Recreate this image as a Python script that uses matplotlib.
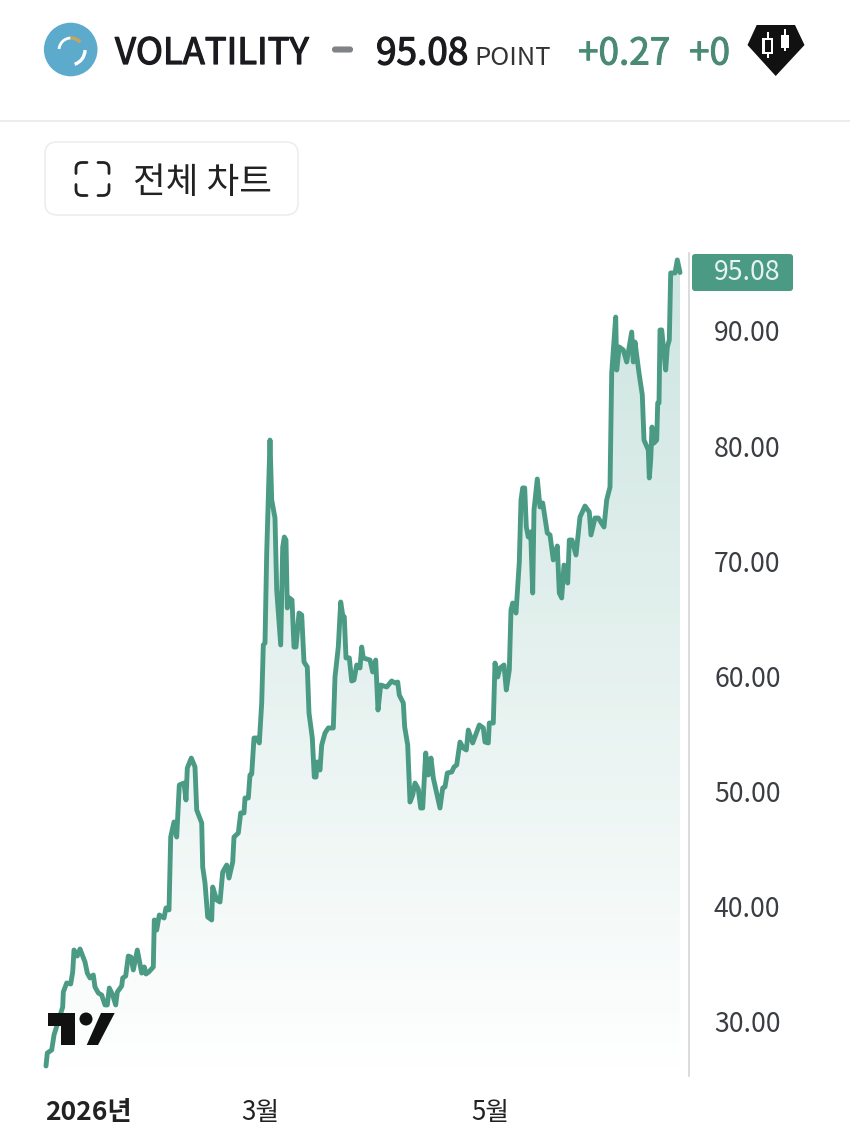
import numpy as np
import matplotlib
matplotlib.use("Agg")
import matplotlib.pyplot as plt
import matplotlib.patheffects as pe
from matplotlib.path import Path
from matplotlib.patches import Circle, FancyBboxPatch, Polygon, Arc, Rectangle, PathPatch

plt.rcParams['font.family'] = ['Noto Sans CJK KR', 'DejaVu Sans']

sessions = [0,1.3,5.7,8,16.7,17.3,20.7,24.7,26.7,28,31.3,34,39,41.3,44,47.3,49,52.3,55.7,59,61.3,63.3,66.7,69.7,71.3,75.7,76.7,79.7,82.3,85,87.3,91.3,95.7,98.3,100,102.7,107.3,108.3,110.7,113.3,118,120,123,124.7,128,130.7,133.3,138,140,141.3,145.3,149,150.7,155.7,156.7,159,161.7,165.7,166.7,170.7,174,176.7,180.7,183,186.7,188,192.3,194.7,198,199,202.3,204,205.7,208,210.7,213.3,215.7,217.3,219,220.7,224,225.7,229,230.7,234.7,236.7,238.3,240,241.3,243.3,246,248,250,253,255.7,258,261.3,263,266.3,268.3,270,271.3,274,275.7,279,282.3,287.3,289,292.3,294.7,296.7,298.3,300,303.3,305.7,308,310.7,314,315.7,317.3,324,326.7,329.7,332,334.7,340.7,345.7,349,351.7,353.3,357.3,358.7,361.7,364,366.7,369,372.3,374.7,376.7,379.7,382.3,385,387.3,394,396.7,399,401.3,405.7,408,410.7,414,417.3,420.3,422.3,426.7,433.3,437.3,439,442.3,443.3,447.3,449,451.7,454,458,460.3,463.3,465,466.7,470,473.3,475,476.7,478.7,480.3,482.3,484.7,486.7,488,491.3,494,496.7,501.3,504,507.3,511.3,513.3,515.7,518,521.7,523.3,526,530,534,539,543.3,545,549,552.3,558,560.7,564,565.7,569.7,570.7,573.3,577.3,580.7,585.7,587.3,589,593,596.3,598,602.3,603.3,604.7,606,608,610.7,611.7,613,614,615.7,619.7,621.3,623.3,624.7,629,631.3,634]
values = [26.18,27.31,27.57,28.87,31.30,32.60,33.39,33.30,34.34,36.25,35.73,36.34,35.21,34.25,33.82,34.08,33.04,32.52,32.34,31.48,31.48,32.95,32.34,31.48,32.60,33.13,33.82,33.99,35.73,35.64,34.52,36.25,34.25,34.78,34.17,34.34,34.78,38.86,37.99,39.29,39.03,39.90,39.73,46.06,47.37,46.06,50.58,50.75,49.28,52.05,52.92,52.14,48.41,47.28,43.46,42.07,39.12,38.86,41.72,40.59,40.42,43.02,43.63,42.50,43.89,46.06,46.41,48.15,48.15,49.45,49.45,51.45,51.53,54.66,54.66,54.23,57.70,62.74,62.91,70.72,80.53,75.33,73.76,67.51,62.74,71.24,72.11,71.85,65.95,66.82,66.64,62.56,62.56,65.51,65.34,61.26,60.82,56.83,54.66,51.27,51.27,52.58,51.88,54.05,55.09,55.53,55.53,59.96,62.56,66.47,65.34,65.17,61.61,61.61,59.61,59.70,61.00,60.74,62.56,61.61,61.43,60.39,61.43,57.09,59.26,59.09,59.61,59.44,59.52,58.39,57.70,55.61,54.05,49.10,49.71,50.75,50.23,48.58,48.58,53.36,51.45,52.92,51.19,48.58,50.32,50.41,51.62,51.71,52.14,52.32,54.31,53.79,53.62,55.35,54.23,55.79,55.53,54.31,54.23,55.96,55.96,61.17,59.96,60.74,61.00,58.83,60.56,65.77,66.38,65.51,69.94,75.33,76.37,76.37,72.98,72.11,72.55,67.25,74.46,77.15,74.72,75.07,72.46,72.29,70.12,71.33,67.25,66.82,69.68,68.12,71.85,71.85,70.55,73.85,74.80,74.28,72.29,73.76,73.76,72.98,75.33,76.45,86.35,91.21,86.61,88.61,88.35,87.31,89.91,87.31,89.04,86.35,84.44,80.53,79.67,77.24,78.80,81.66,80.27,80.53,83.75,83.75,90.09,90.09,86.61,88.61,89.22,95.04,95.04,96.17,95.08]
y_ticks = [30, 40, 50, 60, 70, 80, 90]
x_tick_pos = [42, 214, 444]
x_tick_labels = ['2026년', '3월', '5월']

GREEN = '#4a9a84'
W, H = 850, 1148
fig = plt.figure(figsize=(W/100, H/100), dpi=100, facecolor='white')

px_per_unit = (1022 - 331) / 60.0
top_px, bot_px, right_px = 245, 1076, 689
y0 = 30 - (bot_px - 1022) / px_per_unit
y1 = 30 + (1022 - top_px) / px_per_unit

ax = fig.add_axes([0, 1 - bot_px / H, right_px / W, (bot_px - top_px) / H])
ax.set_xlim(-46, right_px - 46)
ax.set_ylim(y0, y1)
ax.set_facecolor('none')

x = np.array(sessions)
v = np.array(values)
t = np.linspace(1, 0, 256)[:, None]
img = np.zeros((256, 1, 4))
img[..., 0] = 74 / 255
img[..., 1] = 160 / 255
img[..., 2] = 140 / 255
img[..., 3] = 0.28 * t ** 0.95
im = ax.imshow(img, extent=[x[0], x[-1], y0, y1], aspect='auto', origin='upper', zorder=1)
poly = Polygon(np.column_stack([np.r_[x[0], x, x[-1]], np.r_[y0, v, y0]]), closed=True,
               transform=ax.transData, fc='none', ec='none')
ax.add_patch(poly)
im.set_clip_path(poly)
ax.set_xlim(-46, right_px - 46)
ax.set_ylim(y0, y1)
ax.plot(x, v, color=GREEN, lw=3.5, solid_joinstyle='round', solid_capstyle='round', zorder=3)

for s in ['top', 'left', 'bottom']:
    ax.spines[s].set_visible(False)
ax.spines['right'].set_color('#d4d6d8')
ax.spines['right'].set_linewidth(1.2)
ax.spines['right'].set_bounds(y0, 30 + (1022 - 253) / px_per_unit)
ax.yaxis.tick_right()
ax.set_yticks(y_ticks)
ax.set_yticklabels([f'{t_:.2f}' for t_ in y_ticks], fontsize=19.2, color='#3a3d42')
ax.tick_params(axis='y', length=0, pad=18)
ax.set_xticks(x_tick_pos)
ax.set_xticklabels(x_tick_labels, fontsize=18.6, color='#222222')
ax.tick_params(axis='x', length=0, pad=16.5)
ax.get_xticklabels()[0].set_fontweight('bold')
ax.get_xticklabels()[0].set_fontsize(19)
for lab in ax.get_yticklabels():
    lab.set_y(lab.get_position()[1])

ov = fig.add_axes([0, 0, 1, 1], zorder=5)
ov.set_xlim(0, W)
ov.set_ylim(H, 0)
ov.axis('off')
ov.patch.set_alpha(0)

# header logo
ov.add_patch(Circle((70.7, 49.5), 26.8, fc='#5cabcd', ec='none'))
ov.add_patch(Arc((71, 50), 24, 24, theta1=185, theta2=268, ec='white', lw=2.0))
ov.add_patch(Arc((71, 50), 24, 24, theta1=268, theta2=320, ec='#c9a45a', lw=2.4))
ov.add_patch(Arc((70, 50), 30, 30, theta1=0, theta2=72, ec='white', lw=2.4))

def label(px, py, s, size, color='#1b1b1f', stroke=0.0):
    tx = ov.text(px, py, s, fontsize=size, color=color, ha='left', va='center')
    if stroke:
        tx.set_path_effects([pe.withStroke(linewidth=stroke, foreground=color)])
    return tx

label(115, 54, 'VOLATILITY', 26.2, stroke=0.9)
ov.add_patch(FancyBboxPatch((333, 47.5), 19, 4, boxstyle='round,pad=0,rounding_size=2', fc='#808285', ec='#808285', lw=1.5))
label(376, 54, '95.08', 26.6, stroke=0.9)
label(474, 58, 'POINT', 18.4, color='#333333')
label(578, 54, '+0.27', 26.6, color='#4a8a74', stroke=0.7)
label(689, 54, '+0', 26.6, color='#4a8a74', stroke=0.7)

# pattern badge
ov.add_patch(Polygon([(756.7, 25), (795, 25), (804.5, 45), (775.7, 76), (747.5, 45)], closed=True, fc='#111111', ec='none'))
ov.add_patch(Rectangle((766.7, 31.7), 2, 26.6, fc='white', ec='none'))
ov.add_patch(Rectangle((762.3, 37.7), 11, 16.6, fc='white', ec='none'))
ov.add_patch(Rectangle((765, 40), 5.7, 11.7, fc='#111111', ec='none'))
ov.add_patch(Rectangle((784, 29), 2, 22, fc='white', ec='none'))
ov.add_patch(Rectangle((780.7, 35), 8.6, 13.3, fc='white', ec='none'))

# divider and button
ov.plot([0, W], [121, 121], color='#ececec', lw=1.4)
ov.add_patch(FancyBboxPatch((45, 142), 253, 73, boxstyle='round,pad=0,rounding_size=12', fc='white', ec='#ececec', lw=1.1))
for (xa, ya, dx, dy) in [(76, 162.5, 1, 1), (109, 162.5, -1, 1), (76, 195.5, 1, -1), (109, 195.5, -1, -1)]:
    verts = [(xa + dx * 11, ya), (xa + dx * 6, ya), (xa, ya), (xa, ya + dy * 6), (xa, ya + dy * 11)]
    codes = [Path.MOVETO, Path.LINETO, Path.CURVE3, Path.CURVE3, Path.LINETO]
    ov.add_patch(PathPatch(Path(verts, codes), fc='none', ec='#222222', lw=2.0, capstyle='round'))
label(133, 183, '전체 차트', 25.6, color='#222222')

# price tag
ov.add_patch(FancyBboxPatch((692, 254), 101, 37, boxstyle='round,pad=0,rounding_size=3', fc=GREEN, ec='none'))
ov.text(747, 273, '95.08', fontsize=19.2, color='#e8f3f0', ha='center', va='center')

# chart brand mark
ov.add_patch(Polygon([(48, 1013), (75, 1013), (75, 1045), (61, 1045), (61, 1026), (48, 1026)], closed=True, fc='#111111', ec='none'))
ov.add_patch(Circle((86, 1019), 6.5, fc='#111111', ec='none'))
ov.add_patch(Polygon([(101, 1013), (114.7, 1013), (98, 1045), (86.7, 1045)], closed=True, fc='#111111', ec='none'))

fig.savefig('out.png', dpi=100, facecolor='white')
